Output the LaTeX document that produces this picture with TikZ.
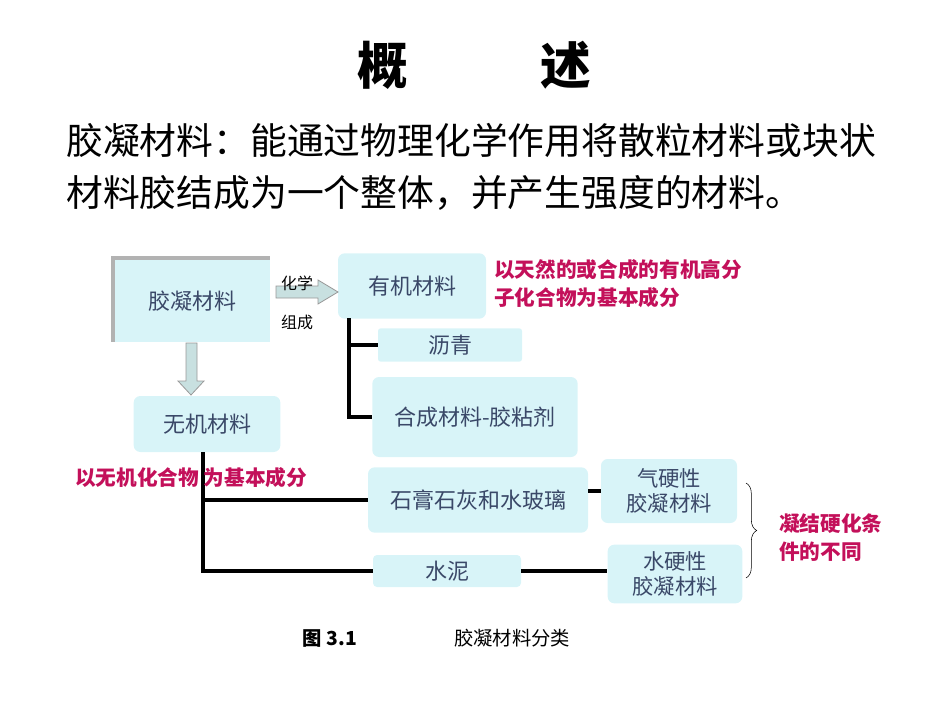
\documentclass[tikz,border=0pt]{standalone}
\usepackage{fontspec}
\setmainfont{Noto Sans CJK SC}
\usetikzlibrary{decorations.pathreplacing}
\definecolor{bx}{HTML}{D8F4F8}
\definecolor{bt}{HTML}{3A4868}
\definecolor{rd}{HTML}{C3105A}
\definecolor{ga}{HTML}{C8E0E0}
\tikzset{
 bbox/.style={fill=bx,rounded corners=5pt,text=bt,font=\fontsize{16.5}{19}\selectfont,align=center,inner sep=0pt},
 conn/.style={line width=3.5pt,black},
 rtxt/.style={text=rd,font=\bfseries\fontsize{15.5}{21}\selectfont,align=left,inner sep=0pt},
 garrow/.style={fill=ga,draw=gray!80,line width=0.6pt}
}
\begin{document}
\begin{tikzpicture}[x=0.75pt,y=-0.75pt]
\useasboundingbox (0,0) rectangle (950,713);
\node[font=\bfseries\fontsize{38}{40}\selectfont] (t1) at (383,65) {概};
\node[font=\bfseries\fontsize{38}{40}\selectfont] (t2) at (566,65) {述};
\node[anchor=west,font=\fontsize{27.6}{30}\selectfont,inner sep=0pt] (l1) at (66,140) {胶凝材料：能通过物理化学作用将散粒材料或块状};
\node[anchor=west,font=\fontsize{27.6}{30}\selectfont,inner sep=0pt] (l2) at (66,193) {材料胶结成为一个整体，并产生强度的材料。};
% boxes
\fill[gray!60] (111,256) rectangle (270,342);
\fill[bx] (115,260) rectangle (270,342);
\node[text=bt,font=\fontsize{16.5}{19}\selectfont] (jn) at (192,301) {胶凝材料};
\node[bbox,minimum width=111pt,minimum height=49pt] (yj) at (412,286) {有机材料};
\node[bbox,minimum width=108pt,minimum height=25pt,rounded corners=2pt] (lq) at (450,345) {沥青};
\node[bbox,minimum width=154pt,minimum height=60pt] (hc) at (475,417) {合成材料-胶粘剂};
\node[bbox,minimum width=110pt,minimum height=42pt] (wj) at (207,424) {无机材料};
\node[bbox,minimum width=165pt,minimum height=49pt] (sg) at (478,500) {石膏石灰和水玻璃};
\node[bbox,minimum width=111pt,minimum height=24pt,rounded corners=3pt] (sn) at (447,571) {水泥};
\node[bbox,minimum width=102pt,minimum height=48pt,font=\fontsize{16}{19}\selectfont] (qy) at (669,491) {气硬性\\胶凝材料};
\node[bbox,minimum width=101pt,minimum height=44pt,font=\fontsize{16}{19}\selectfont] (sy) at (675,574) {水硬性\\胶凝材料};
% gray arrows
\draw[garrow] (276,286) -- (318,286) -- (318,280) -- (338,292) -- (318,304) -- (318,298) -- (276,298) -- cycle;
\draw[garrow] (186,343) -- (197,343) -- (197,381) -- (204,381) -- (191,395) -- (178,381) -- (186,381) -- cycle;
\node[font=\fontsize{12}{13}\selectfont] (hx) at (297,283) {化学};
\node[font=\fontsize{12}{13}\selectfont] (zc) at (297,322) {组成};
% connectors
\coordinate (o1) at (349,318);
\draw[conn] (o1) |- (lq.west);
\draw[conn] (o1) |- (hc.west);
\coordinate (i1) at (203,452);
\draw[conn] (i1) |- (sg.west);
\draw[conn] (i1) |- (sn.west);
\draw[conn] (sg.east|-qy.west) -- (qy.west);
\draw[conn] (sn.east) -- (sy.west|-sn.east);
% red texts
\node[rtxt,anchor=north west] (r1) at (494,259) {以天然的或合成的有机高分\\子化合物为基本成分};
\node[rtxt,anchor=west] (r2) at (75,478) {以无机化合物\ 为基本成分};
\coordinate (b1) at (746,483);
\coordinate (b2) at (746,578);
\draw[decorate,decoration={brace,amplitude=8pt},thin] (b1) -- (b2);
\node[rtxt,anchor=west] (r3) at (779,538) {凝结硬化条\\件的不同};
% caption
\node[font=\bfseries\fontsize{14.5}{16}\selectfont] (c1) at (330,638) {图 3.1};
\node[font=\fontsize{14.5}{16}\selectfont] (c2) at (512,638) {胶凝材料分类};
\end{tikzpicture}
\end{document}
